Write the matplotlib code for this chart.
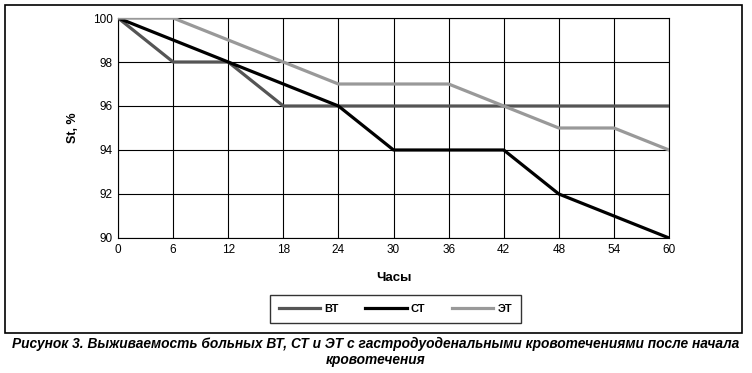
import matplotlib
matplotlib.use("Agg")
import matplotlib.pyplot as plt
from matplotlib.patches import Rectangle
from matplotlib import font_manager

hours = [0, 6, 12, 18, 24, 30, 36, 42, 48, 54, 60]
vt = [100, 98, 98, 96, 96, 96, 96, 96, 96, 96, 96]
st = [100, 99, 98, 97, 96, 94, 94, 94, 92, 91, 90]
et = [100, 100, 99, 98, 97, 97, 97, 96, 95, 95, 94]
labels = ["ВТ", "СТ", "ЭТ"]
colors = ["#555555", "#000000", "#999999"]

names = {f.name for f in font_manager.fontManager.ttflist}
narrow = "Liberation Sans Narrow" if "Liberation Sans Narrow" in names else "Liberation Sans"
plt.rcParams["font.family"] = ["Liberation Sans", "DejaVu Sans"]

fig = plt.figure(figsize=(7.52, 3.73), dpi=100)
fig.patches.append(Rectangle((0.0066, 0.107), 0.980, 0.880, transform=fig.transFigure,
                             fill=False, edgecolor="black", linewidth=1.2))

ax = fig.add_axes([0.157, 0.362, 0.7326, 0.5897])
for y, lab, c in zip([vt, st, et], labels, colors):
    ax.plot(hours, y, color=c, linewidth=2.3, label=lab, zorder=3)

ax.set_xlim(0, 60)
ax.set_ylim(90, 100)
ax.set_xticks(hours)
ax.set_yticks(range(90, 101, 2))
ax.grid(True, color="black", linewidth=0.8)
ax.tick_params(length=0, labelsize=8.5, pad=4)
for s in ax.spines.values():
    s.set_linewidth(0.8)
ax.set_xlabel("Часы", fontsize=9.5, fontweight="bold", family=narrow, labelpad=12)
ax.set_ylabel("St, %", fontsize=9, fontweight="bold", labelpad=10)

leg = ax.legend(loc="center", bbox_to_anchor=(0.526, 0.172), bbox_transform=fig.transFigure,
                ncol=3, frameon=True, fancybox=False, edgecolor="black",
                prop={"family": narrow, "weight": "bold", "size": 8},
                handlelength=3.7, columnspacing=2.4, borderpad=0.8, handletextpad=0.4)
leg.get_frame().set_linewidth(1.0)

fig.text(0.5, 0.079, "Рисунок 3. Выживаемость больных ВТ, СТ и ЭТ с гастродуоденальными кровотечениями после начала",
         ha="center", va="center", fontsize=9.9, fontweight="bold", style="italic", family=narrow)
fig.text(0.5, 0.035, "кровотечения",
         ha="center", va="center", fontsize=9.9, fontweight="bold", style="italic", family=narrow)

fig.savefig("out.png", dpi=100)
